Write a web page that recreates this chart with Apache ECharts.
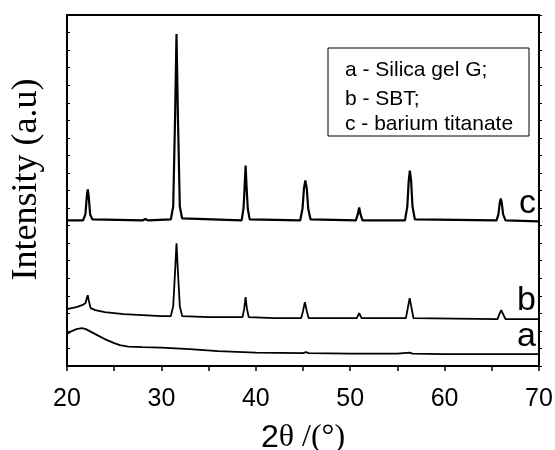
<!DOCTYPE html>
<html>
<head>
<meta charset="utf-8">
<script src="https://cdn.jsdelivr.net/npm/echarts@6/dist/echarts.min.js"></script>
<style>
    html, body { margin: 0; padding: 0; background: #fff; }
    #xrd { width: 555px; height: 450px; }
</style>
</head>
<body>
<div id="xrd"></div>
<script>
// ค่าจากกราฟ XRD: [2theta, intensity (a.u.)]
var xTicks = [20, 30, 40, 50, 60, 70];

var curveA = [
    [20, 32], [20.5, 35], [21, 37], [21.6, 38], [22, 37], [22.5, 34.5], [23, 32],
    [23.5, 29.5], [24, 27], [24.5, 25], [25, 23], [25.6, 21], [26.5, 19.5], [28, 19],
    [30, 18.5], [33, 17], [36, 15], [40, 13.5], [45, 13], [45.3, 14], [45.6, 13],
    [50, 12.5], [55, 12.5], [56.3, 13.5], [56.6, 12.5], [60, 12], [65, 12], [70, 12]
];

var curveB = [
    [20, 57], [21, 59], [21.6, 61], [21.95, 63], [22.1, 68], [22.2, 71], [22.3, 66],
    [22.5, 58], [23, 56], [24, 54], [26, 52], [28, 51], [30, 50], [31.0, 50],
    [31.25, 60], [31.45, 95], [31.6, 123], [31.75, 95], [31.95, 60], [32.2, 50],
    [35, 49], [38.6, 49], [38.78, 58], [38.92, 69], [39.05, 58], [39.25, 49],
    [42, 48], [44.8, 48], [45.0, 55], [45.2, 64], [45.4, 55], [45.6, 48],
    [50.7, 48], [50.95, 53], [51.2, 48], [55.9, 48], [56.1, 58], [56.3, 68],
    [56.5, 58], [56.7, 48], [65.6, 47], [65.85, 53], [66.0, 56], [66.2, 52],
    [66.45, 47], [70, 47]
];

var curveC = [
    [20, 146], [21.7, 146], [21.95, 152], [22.1, 170], [22.2, 177], [22.3, 170],
    [22.45, 152], [22.7, 147], [28.0, 146], [28.3, 147.5], [28.6, 146],
    [31.0, 147], [31.25, 160], [31.45, 250], [31.6, 333], [31.75, 250], [31.95, 160],
    [32.2, 148], [38.5, 146], [38.7, 158], [38.82, 180], [38.92, 201], [39.02, 180],
    [39.15, 158], [39.35, 147], [44.7, 146], [44.95, 158], [45.1, 178], [45.25, 186],
    [45.4, 178], [45.55, 158], [45.8, 147], [50.6, 146], [50.8, 152], [50.95, 159],
    [51.1, 152], [51.3, 146], [55.8, 146], [56.05, 160], [56.2, 186], [56.32, 196],
    [56.45, 186], [56.6, 160], [56.85, 147], [65.5, 146], [65.7, 152], [65.85, 164],
    [65.95, 168], [66.05, 164], [66.2, 152], [66.45, 146], [70, 145]
];

var legendLines = ['a - Silica gel G;', 'b - SBT;', 'c - barium titanate'];
var curveNames = ['a', 'b', 'c'];

var sans = 'Liberation Sans, Arial, sans-serif';
var serif = 'Liberation Serif, Times New Roman, serif';

var xrd = echarts.init(document.getElementById('xrd'));

function lineSeries(name, data, width) {
    return {
        name: name,
        type: 'line',
        data: data,
        showSymbol: false,
        smooth: false,
        lineStyle: { color: '#000', width: width },
        animation: false
    };
}

function getXrdOption() {
    return {
        backgroundColor: '#fff',
        grid: { left: 67, right: 16, top: 15, bottom: 84, outerBoundsMode: 'none' },
        xAxis: [
            {
                type: 'value',
                min: 20,
                max: 70,
                interval: 10,
                position: 'bottom',
                axisLine: { show: true, onZero: false, lineStyle: { color: '#000', width: 2 } },
                axisTick: { show: true, length: 5, lineStyle: { color: '#000', width: 1.5 } },
                minorTick: { show: true, splitNumber: 2, length: 5, lineStyle: { color: '#000', width: 1.5 } },
                splitLine: { show: false },
                axisLabel: {
                    color: '#000',
                    fontSize: 25,
                    fontFamily: sans,
                    margin: 21,
                    formatter: function (v) { return xTicks.indexOf(v) >= 0 ? String(v) : ''; }
                },
                name: '{s|2}{t|θ /(°)}',
                nameLocation: 'middle',
                nameGap: 56,
                nameTextStyle: {
                    rich: {
                        s: { fontSize: 32, fontFamily: sans, color: '#000' },
                        t: { fontSize: 32, fontFamily: serif, color: '#000' }
                    }
                }
            },
            {
                type: 'value',
                min: 20,
                max: 70,
                position: 'top',
                axisLine: { show: true, onZero: false, lineStyle: { color: '#000', width: 2 } },
                axisTick: { show: false },
                axisLabel: { show: false },
                splitLine: { show: false }
            }
        ],
        yAxis: [
            {
                type: 'value',
                min: 0,
                max: 352,
                interval: 17.6,
                position: 'left',
                axisLine: { show: true, onZero: false, lineStyle: { color: '#000', width: 2 } },
                axisTick: { show: true, inside: true, length: 3, lineStyle: { color: '#000', width: 1 } },
                axisLabel: { show: false },
                splitLine: { show: false },
                name: 'Intensity (a.u)',
                nameLocation: 'middle',
                nameGap: 22,
                nameTextStyle: { fontSize: 36, fontFamily: serif, color: '#000', padding: [0, 0, 0, 22] }
            },
            {
                type: 'value',
                min: 0,
                max: 352,
                interval: 17.6,
                position: 'right',
                axisLine: { show: true, onZero: false, lineStyle: { color: '#000', width: 2 } },
                axisTick: { show: true, inside: false, length: 3, lineStyle: { color: '#000', width: 1 } },
                axisLabel: { show: false },
                splitLine: { show: false }
            }
        ],
        series: [
            lineSeries('a', curveA, 1.8),
            lineSeries('b', curveB, 1.8),
            lineSeries('c', curveC, 2.2)
        ],
        graphic: [
            {
                type: 'rect',
                shape: { x: 328, y: 48, width: 201, height: 88 },
                style: { fill: '#fff', stroke: '#000', lineWidth: 1 },
                z: 100
            },
            { type: 'text', x: 345, y: 70, z: 101, style: { text: legendLines[0], fill: '#000', font: '21px ' + sans, textVerticalAlign: 'middle' } },
            { type: 'text', x: 345, y: 99, z: 101, style: { text: legendLines[1], fill: '#000', font: '21px ' + sans, textVerticalAlign: 'middle' } },
            { type: 'text', x: 345, y: 124, z: 101, style: { text: legendLines[2], fill: '#000', font: '21px ' + sans, textVerticalAlign: 'middle' } },
            { type: 'text', x: 536, y: 204, z: 101, style: { text: curveNames[2], fill: '#000', font: '34px ' + sans, textAlign: 'right', textVerticalAlign: 'middle' } },
            { type: 'text', x: 536, y: 301, z: 101, style: { text: curveNames[1], fill: '#000', font: '34px ' + sans, textAlign: 'right', textVerticalAlign: 'middle' } },
            { type: 'text', x: 536, y: 337, z: 101, style: { text: curveNames[0], fill: '#000', font: '34px ' + sans, textAlign: 'right', textVerticalAlign: 'middle' } }
        ]
    };
}

function resizeXrdChart() {
    xrd.setOption(getXrdOption());
    xrd.resize();
}
xrd.setOption(getXrdOption());
window.addEventListener('resize', resizeXrdChart);
</script>
</body>
</html>
